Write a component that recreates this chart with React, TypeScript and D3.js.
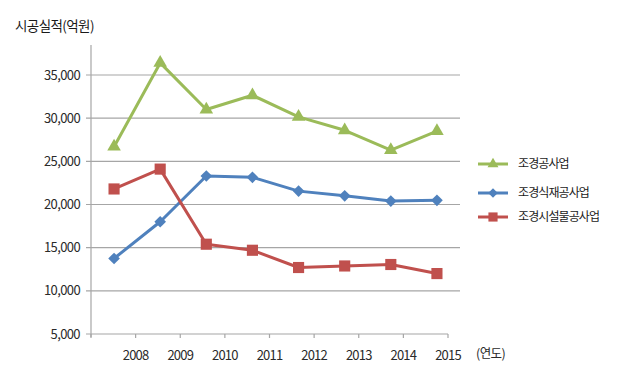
import React from 'react';
import * as d3 from 'd3';

// --- data ---
const categories = ['2008', '2009', '2010', '2011', '2012', '2013', '2014', '2015'];
const axisYears = ['2008', '2009', '2010', '2011', '2012', '2013', '2014', '2015'];
const yTicks = [5000, 10000, 15000, 20000, 25000, 30000, 35000];

const landscapeValues = [26700, 36400, 31000, 32650, 30150, 28600, 26300, 28500];
const plantingValues = [13750, 18000, 23300, 23150, 21550, 21000, 20400, 20480];
const facilityValues = [21800, 24100, 15400, 14700, 12700, 12880, 13050, 12000];

const seriesNames = ['조경공사업', '조경식재공사업', '조경시설물공사업'];
const seriesColors = ['#9BBB59', '#4F81BD', '#C0504D'];
const seriesShapes = ['triangle', 'diamond', 'square'];

const FONT = '"Noto Sans CJK KR", "Noto Sans", sans-serif';

const markerPath = (shape: string, big: boolean) => {
  if (shape === 'triangle') return d3.symbol(d3.symbolTriangle, big ? 80 : 52)()!;
  if (shape === 'diamond') return d3.symbol(d3.symbolSquare, big ? 68 : 46)()!;
  return d3.symbol(d3.symbolSquare, big ? 124 : 84)()!;
};

const App = () => {
  const width = 620;
  const height = 392;

  // plot area
  const left = 91;
  const right = 460;
  const bottom = 334;

  const x = d3.scaleBand<string>().domain(categories).range([left, right]);
  const xAxis = d3.scaleLinear().domain([0, axisYears.length]).range([left, 448]);
  const y = d3.scaleLinear().domain([5000, 35000]).range([bottom, 75]);

  const series = [landscapeValues, plantingValues, facilityValues];
  const line = d3
    .line<number>()
    .x((_, i) => x(categories[i])! + x.bandwidth() / 2)
    .y((d) => y(d));

  const fmt = d3.format(',');
  const legendY = [164, 193, 217];

  return (
    <svg
      width={width}
      height={height}
      style={{ position: 'absolute', left: 0, top: 0, background: '#fff' }}
      fontFamily={FONT}
    >
      {/* title */}
      <text x={15} y={31} fontSize={13.5} fill="#1a1a1a" letterSpacing={-0.6}>
        시공실적(억원)
      </text>

      {/* gridlines + y tick labels */}
      {yTicks.map((t) => (
        <g key={t}>
          {t > 5000 && (
            <line x1={86} x2={right} y1={y(t)} y2={y(t)} stroke="#a6a6a6" strokeWidth={1.2} />
          )}
          <text
            x={80}
            y={y(t)}
            dy="0.35em"
            textAnchor="end"
            fontSize={13}
            fill="#2a2a2a"
            letterSpacing={-0.6}
          >
            {fmt(t)}
          </text>
        </g>
      ))}

      {/* y axis */}
      <line x1={left} x2={left} y1={45} y2={bottom + 3} stroke="#a6a6a6" strokeWidth={1.2} />

      {/* x axis */}
      <line x1={86} x2={xAxis(axisYears.length)} y1={bottom} y2={bottom} stroke="#a6a6a6" strokeWidth={1.2} />
      {d3.range(axisYears.length + 1).map((i) => (
        <line
          key={i}
          x1={xAxis(i)}
          x2={xAxis(i)}
          y1={bottom}
          y2={bottom + 4}
          stroke="#a6a6a6"
          strokeWidth={1.2}
        />
      ))}
      {axisYears.map((yr, i) => (
        <text
          key={yr}
          x={xAxis(i + 1)}
          y={355}
          dy="0.35em"
          textAnchor="middle"
          fontSize={13}
          fill="#2a2a2a"
          letterSpacing={-0.8}
        >
          {yr}
        </text>
      ))}
      <text x={476} y={354} dy="0.35em" fontSize={12.5} fill="#2a2a2a" letterSpacing={-0.6}>
        (연도)
      </text>

      {/* series */}
      {series.map((vals, s) => (
        <g key={seriesNames[s]}>
          <path
            d={line(vals)!}
            fill="none"
            stroke={seriesColors[s]}
            strokeWidth={3}
            strokeLinejoin="round"
          />
          {vals.map((v, i) => (
            <path
              key={i}
              d={markerPath(seriesShapes[s], true)}
              transform={`translate(${x(categories[i])! + x.bandwidth() / 2},${y(v)})${
                seriesShapes[s] === 'diamond' ? ' rotate(45)' : ''
              }`}
              fill={seriesColors[s]}
            />
          ))}
        </g>
      ))}

      {/* legend */}
      {seriesNames.map((name, s) => (
        <g key={name} transform={`translate(478,${legendY[s]})`}>
          <line x1={0} x2={30} y1={0} y2={0} stroke={seriesColors[s]} strokeWidth={3} />
          <path
            d={markerPath(seriesShapes[s], false)}
            transform={`translate(15,0)${seriesShapes[s] === 'diamond' ? ' rotate(45)' : ''}`}
            fill={seriesColors[s]}
          />
          <text x={40} y={0} dy="0.35em" fontSize={12} fill="#1a1a1a" letterSpacing={-0.9}>
            {name}
          </text>
        </g>
      ))}
    </svg>
  );
};

export default App;
